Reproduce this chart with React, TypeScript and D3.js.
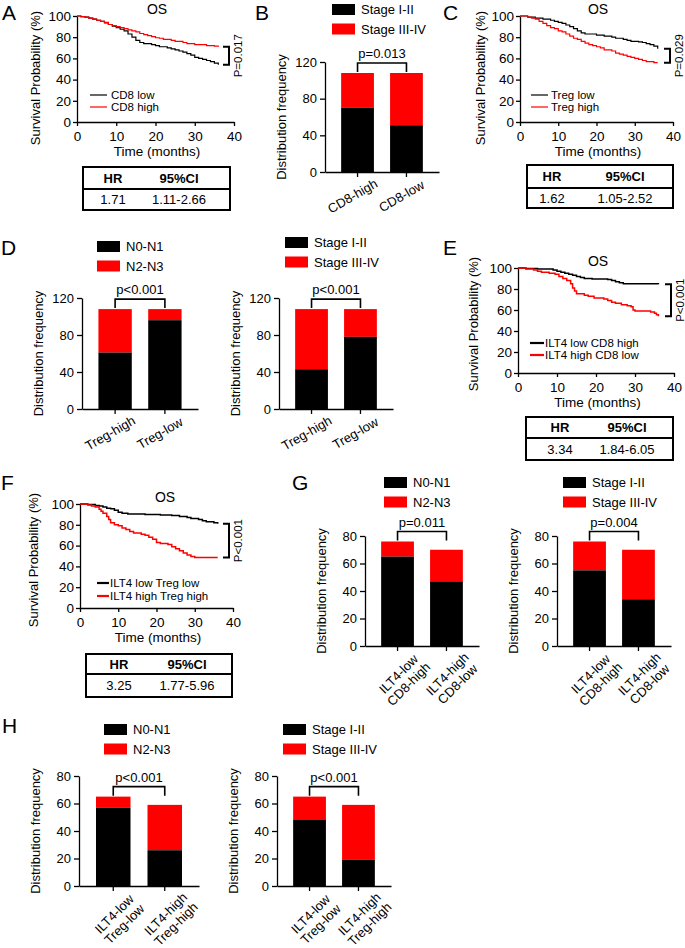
import * as d3 from "d3"
import { useEffect, useRef } from "react"

type Pt = [number, number]
type Sel = d3.Selection<SVGGElement, unknown, null, undefined>

const FONT = "'Liberation Sans', Arial, Helvetica, sans-serif"
const RED = "#ff0000"

// Overall survival steps: [month, % surviving]
const cd8LowOS: Pt[] = [
  [0, 100], [1, 99.5], [2, 99], [3, 98], [4, 97], [5, 96], [6, 95], [7, 93.5], [8, 92], [9, 90.5],
  [10, 89], [11, 87.5], [12, 86], [13, 83], [14, 80], [15, 77], [16, 75], [17, 74], [19, 73], [20, 72],
  [21, 71], [23, 70], [24, 69], [25, 68], [26, 67], [27, 66], [28, 64.5], [29, 63], [30, 61], [31, 60],
  [32, 59], [33, 58], [34, 57], [35, 55.5], [36, 54],
]
const cd8HighOS: Pt[] = [
  [0, 100], [1, 99.5], [2, 99], [3, 98], [4, 97], [5, 96], [6, 95], [7, 94], [8, 92], [9, 91],
  [10, 90], [11, 89], [12, 88], [13, 87], [14, 86], [15, 85], [16, 83.5], [17, 82.5], [18, 81.5],
  [19, 80.5], [20, 79.5], [21, 79], [22, 78], [24, 77], [25, 76], [27, 75], [28, 74], [30, 73],
  [33, 72], [35, 71.5], [36, 71],
]
const tregLowOS: Pt[] = [
  [0, 100], [2, 99], [4, 98], [6, 97], [8, 96], [9, 95], [10, 94], [11, 93], [12, 91.5], [13, 90],
  [14, 88], [15, 86], [16, 84], [17, 83], [20, 82], [22, 81], [24, 80], [25, 79], [27, 78], [28, 77],
  [29, 76], [31, 75.5], [32, 75], [33, 74], [34, 73], [35, 71.5], [36, 69],
]
const tregHighOS: Pt[] = [
  [0, 100], [2, 99], [3, 98], [4, 97], [5, 95], [6, 93], [7, 91], [8, 89], [9, 88], [10, 86],
  [11, 85], [12, 83], [13, 81], [14, 79], [15, 78], [16, 76], [17, 74.5], [18, 73], [19, 72], [20, 71],
  [21, 70], [22, 68], [24, 67], [25, 65], [26, 64], [27, 63], [28, 62], [29, 61], [30, 60], [31, 59],
  [32, 58], [33, 57], [35, 56], [36, 56],
]
const ilt4LowCd8HighOS: Pt[] = [
  [0, 100], [2, 99.5], [5, 99], [9, 98], [10, 97], [11, 96], [12, 95], [13, 94], [14, 93], [15, 92],
  [16, 91], [17, 90], [19, 89.5], [23, 89], [24, 88], [25, 87], [26, 86], [27, 85], [36, 84.5],
]
const ilt4HighCd8LowOS: Pt[] = [
  [0, 100], [2, 99], [4, 98], [5, 97], [6, 96], [8, 95], [9.5, 94], [10.5, 92], [11.5, 90], [12.5, 88],
  [13.5, 85], [14, 81], [14.5, 78], [15, 75.5], [17, 74], [18, 73], [19.5, 71.5], [22, 70.5], [23, 69],
  [24, 67.5], [25, 66.5], [26.5, 65], [28, 64], [29, 63], [29.5, 60], [30, 59], [34, 58], [35, 57],
  [35.5, 55.5], [36, 54],
]
const ilt4LowTregLowOS: Pt[] = [
  [0, 100], [2, 99.5], [4, 98.5], [5, 98], [6, 97], [7, 96], [8, 95.5], [9, 94], [10, 92], [11, 91],
  [12.5, 90.5], [17, 90], [21, 89.5], [24, 89], [26, 88], [28, 87], [29, 86], [31, 85], [32, 84],
  [33, 83], [35, 82], [36, 81],
]
const ilt4HighTregHighOS: Pt[] = [
  [0, 100], [2, 99], [3, 98], [4, 97], [5, 95], [5.5, 93], [6, 91], [7, 88], [7.5, 85], [8, 82],
  [9, 80], [10, 79], [11, 77], [12, 75.5], [13, 73.5], [14, 72], [16, 71], [17, 70], [18, 68], [19, 66],
  [20, 63], [21, 62], [23, 61], [24, 59], [25, 57], [26, 55], [27, 53], [28, 51], [29, 49.5], [30, 48.5],
  [36, 48.5],
]

const kmTimeTicks = [0, 10, 20, 30, 40]
const kmSurvTicks = [0, 20, 40, 60, 80, 100]

// Distribution bars (patient counts)
const nodeLabels = ["N0-N1", "N2-N3"]
const stageLabels = ["Stage I-II", "Stage III-IV"]
const freqTicks120 = [0, 40, 80, 120]
const freqTicks80 = [0, 20, 40, 60, 80]

const cd8Groups = ["CD8-high", "CD8-low"]
const cd8StageEarly = [70, 51]
const cd8StageLate = [38, 57]

const tregGroups = ["Treg-high", "Treg-low"]
const tregN01 = [61, 96]
const tregN23 = [47, 12]
const tregStageEarly = [43, 78]
const tregStageLate = [65, 30]

const ilt4Cd8Groups = ["ILT4-low|CD8-high", "ILT4-high|CD8-low"]
const ilt4Cd8N01 = [65, 47]
const ilt4Cd8N23 = [11, 23]
const ilt4Cd8StageEarly = [55, 34]
const ilt4Cd8StageLate = [21, 36]

const ilt4TregGroups = ["ILT4-low|Treg-low", "ILT4-high|Treg-high"]
const ilt4TregN01 = [57, 26]
const ilt4TregN23 = [8, 33]
const ilt4TregStageEarly = [48, 19]
const ilt4TregStageLate = [17, 40]

// Hazard ratio tables
const hrHeader = ["HR", "95%CI"]
const hrCd8 = ["1.71", "1.11-2.66"]
const hrTreg = ["1.62", "1.05-2.52"]
const hrIlt4Cd8 = ["3.34", "1.84-6.05"]
const hrIlt4Treg = ["3.25", "1.77-5.96"]

const styleAxis = (axis: Sel, size: number, width = 1.3) => {
  axis.attr("font-family", FONT).attr("font-size", size)
  axis.selectAll("text").attr("fill", "#000")
  axis.selectAll("path, line").attr("stroke", "#000").attr("stroke-width", width)
}

interface KMOpts {
  x0: number; x1: number; y0: number; y1: number
  series: { data: Pt[]; color: string; label: string }[]
  lw: number
  legLine: [number, number]; legText: number; legY: number[]; legLw: number
  titleX: number
  yLab: [number, number]
  p: string; bracketX: number
}

const drawKM = (root: Sel, o: KMOpts) => {
  const x = d3.scaleLinear().domain([0, 40]).range([o.x0, o.x1])
  const y = d3.scaleLinear().domain([0, 100]).range([o.y0, o.y1])
  const g = root.append("g")

  const xAxis = g.append("g").attr("transform", `translate(0,${o.y0})`)
    .call(d3.axisBottom(x).tickValues(kmTimeTicks).tickSize(4).tickPadding(5).tickSizeOuter(0))
  styleAxis(xAxis, 13.5)
  const yAxis = g.append("g").attr("transform", `translate(${o.x0},0)`)
    .call(d3.axisLeft(y).tickValues(kmSurvTicks).tickSize(4).tickPadding(2).tickSizeOuter(0))
  styleAxis(yAxis, 13.5)

  const line = d3.line<Pt>().x(d => x(d[0])).y(d => y(d[1])).curve(d3.curveStepAfter)
  o.series.forEach((s, i) => {
    g.append("path").attr("d", line(s.data)).attr("fill", "none")
      .attr("stroke", s.color).attr("stroke-width", o.lw)
    g.append("line").attr("x1", o.legLine[0]).attr("x2", o.legLine[1])
      .attr("y1", o.legY[i]).attr("y2", o.legY[i])
      .attr("stroke", s.color).attr("stroke-width", o.legLw)
    g.append("text").attr("x", o.legText).attr("y", o.legY[i]).attr("dy", "0.35em")
      .attr("font-family", FONT).attr("font-size", 11.5).text(s.label)
  })

  // title and axis labels
  g.append("text").attr("x", o.titleX).attr("y", o.y1 - 2).attr("text-anchor", "middle")
    .attr("font-family", FONT).attr("font-size", 14).text("OS")
  g.append("text").attr("x", (o.x0 + o.x1) / 2 + 1.5).attr("y", o.y0 + 29).attr("dy", "0.35em")
    .attr("text-anchor", "middle").attr("font-family", FONT).attr("font-size", 13.5)
    .text("Time (months)")
  g.append("text").attr("transform", `translate(${o.yLab[0]},${o.yLab[1]}) rotate(-90)`)
    .attr("dy", "0.35em").attr("text-anchor", "middle").attr("font-family", FONT)
    .attr("font-size", 13).text("Survival Probability (%)")

  // log-rank bracket between curve ends
  const ends = o.series.map(s => y(s.data[s.data.length - 1][1]))
  const yA = d3.min(ends) as number
  const yB = d3.max(ends) as number
  g.append("path")
    .attr("d", `M${o.bracketX - 6},${yA}H${o.bracketX}V${yB}H${o.bracketX - 6}`)
    .attr("fill", "none").attr("stroke", "#000").attr("stroke-width", 2)
  g.append("text").attr("transform", `translate(${o.bracketX + 9},${(yA + yB) / 2}) rotate(-90)`)
    .attr("dy", "0.35em").attr("text-anchor", "middle").attr("font-family", FONT)
    .attr("font-size", 11.5).text(o.p)
}

interface TableOpts {
  x0: number; x1: number; top: number; mid: number; bottom: number
  cols: [number, number]; values: string[]
}

const drawTable = (root: Sel, t: TableOpts) => {
  const g = root.append("g").attr("font-family", FONT).attr("font-size", 13)
  g.append("rect").attr("x", t.x0).attr("y", t.top).attr("width", t.x1 - t.x0)
    .attr("height", t.bottom - t.top).attr("fill", "none").attr("stroke", "#000").attr("stroke-width", 2)
  g.append("line").attr("x1", t.x0).attr("x2", t.x1).attr("y1", t.mid).attr("y2", t.mid)
    .attr("stroke", "#000").attr("stroke-width", 1.8)
  hrHeader.forEach((h, i) => {
    g.append("text").attr("x", t.cols[i]).attr("y", (t.top + t.mid) / 2).attr("dy", "0.35em")
      .attr("text-anchor", "middle").attr("font-weight", "bold").text(h)
  })
  t.values.forEach((v, i) => {
    g.append("text").attr("x", t.cols[i]).attr("y", (t.mid + t.bottom) / 2).attr("dy", "0.35em")
      .attr("text-anchor", "middle").text(v)
  })
}

interface BarOpts {
  x0: number; width: number; y0: number; y1: number; max: number; ticks: number[]
  groups: string[]; lower: number[]; upper: number[]; legend: string[]
  legX: number; legY: number; p: string; twoLine: boolean
}

const drawBars = (root: Sel, o: BarOpts) => {
  const g = root.append("g")
  const x = d3.scaleBand().domain(o.groups).range([o.x0, o.x0 + o.width])
    .paddingInner(0.33).paddingOuter(0.33)
  const y = d3.scaleLinear().domain([0, o.max]).range([o.y0, o.y1])

  o.groups.forEach((grp, i) => {
    const bx = x(grp) as number
    g.append("rect").attr("x", bx).attr("width", x.bandwidth())
      .attr("y", y(o.lower[i] + o.upper[i])).attr("height", y(o.lower[i]) - y(o.lower[i] + o.upper[i]))
      .attr("fill", RED)
    g.append("rect").attr("x", bx).attr("width", x.bandwidth())
      .attr("y", y(o.lower[i])).attr("height", y(0) - y(o.lower[i])).attr("fill", "#000")
  })

  const yAxis = g.append("g").attr("transform", `translate(${o.x0},0)`)
    .call(d3.axisLeft(y).tickValues(o.ticks).tickSize(5).tickPadding(3).tickSizeOuter(0))
  styleAxis(yAxis, 13)
  const xAxis = g.append("g").attr("transform", `translate(0,${o.y0})`)
    .call(d3.axisBottom(x).tickSize(5).tickSizeOuter(0).tickFormat(() => ""))
  styleAxis(xAxis, 13)

  // rotated group labels
  o.groups.forEach(grp => {
    const c = (x(grp) as number) + x.bandwidth() / 2
    const lines = grp.split("|")
    const t = g.append("text").attr("font-family", FONT).attr("font-size", 13).attr("text-anchor", "middle")
    if (o.twoLine) {
      t.attr("transform", `translate(${c + 6},${o.y0 + 33}) rotate(-45)`)
      t.append("tspan").attr("x", 0).attr("dy", "-0.2em").text(lines[0])
      t.append("tspan").attr("x", 0).attr("dy", "1.1em").text(lines[1])
    } else {
      t.attr("transform", `translate(${c - 5},${o.y0 + 24}) rotate(-30)`).attr("dy", "0.35em").text(lines[0])
    }
  })

  g.append("text").attr("transform", `translate(${o.x0 - 44},${(o.y0 + o.y1) / 2}) rotate(-90)`)
    .attr("dy", "0.35em").attr("text-anchor", "middle").attr("font-family", FONT)
    .attr("font-size", 13).text("Distribution frequency")

  // legend
  o.legend.forEach((lab, i) => {
    const ly = o.legY + i * 19.5
    g.append("rect").attr("x", o.legX).attr("y", ly).attr("width", 23).attr("height", 11)
      .attr("fill", i === 0 ? "#000" : RED)
    g.append("text").attr("x", o.legX + 29).attr("y", ly + 5.5).attr("dy", "0.35em")
      .attr("font-family", FONT).attr("font-size", 13).text(lab)
  })

  // significance bracket
  const c1 = (x(o.groups[0]) as number) + x.bandwidth() / 2
  const c2 = (x(o.groups[1]) as number) + x.bandwidth() / 2
  const top = y(d3.max(o.groups.map((_g, i) => o.lower[i] + o.upper[i])) as number)
  const by = top - 10
  g.append("path").attr("d", `M${c1},${top - 1}V${by}H${c2}V${top - 1}`)
    .attr("fill", "none").attr("stroke", "#000").attr("stroke-width", 1.6)
  g.append("text").attr("x", (c1 + c2) / 2).attr("y", by - 5).attr("text-anchor", "middle")
    .attr("font-family", FONT).attr("font-size", 13).text(o.p)
}

const panelLetters: [string, number, number][] = [
  ["A", 2, 20], ["B", 255, 20], ["C", 443, 20], ["D", 1, 255],
  ["E", 443, 255], ["F", 1, 490], ["G", 292, 490], ["H", 2, 733],
]

const App = () => {
  const svgRef = useRef<SVGSVGElement | null>(null)

  useEffect(() => {
    if (!svgRef.current) return
    const svg = d3.select(svgRef.current)
    svg.selectAll("*").remove()
    const root = svg.append("g") as unknown as Sel
    root.append("rect").attr("width", 685).attr("height", 948).attr("fill", "#fff")

    // A
    drawKM(root, {
      x0: 77, x1: 234, y0: 122, y1: 16,
      series: [{ data: cd8LowOS, color: "#000", label: "CD8 low" }, { data: cd8HighOS, color: RED, label: "CD8 high" }],
      lw: 1.2, legLine: [90, 107], legText: 111, legY: [95, 107], legLw: 1.2,
      titleX: 157, yLab: [35, 78], p: "P=0.017", bracketX: 229,
    })
    drawTable(root, { x0: 83, x1: 230, top: 167, mid: 189, bottom: 210, cols: [113, 179], values: hrCd8 })

    // B
    drawBars(root, {
      x0: 325, width: 114, y0: 172, y1: 62, max: 120, ticks: freqTicks120,
      groups: cd8Groups, lower: cd8StageEarly, upper: cd8StageLate, legend: stageLabels,
      legX: 332, legY: 4, p: "p=0.013", twoLine: false,
    })

    // C
    drawKM(root, {
      x0: 520, x1: 673, y0: 122, y1: 16,
      series: [{ data: tregLowOS, color: "#000", label: "Treg low" }, { data: tregHighOS, color: RED, label: "Treg high" }],
      lw: 1.2, legLine: [531, 548], legText: 551, legY: [95, 107], legLw: 1.2,
      titleX: 598, yLab: [480, 78], p: "P=0.029", bracketX: 670,
    })
    drawTable(root, { x0: 527, x1: 673, top: 165, mid: 188, bottom: 208, cols: [552, 625], values: hrTreg })

    // D
    drawBars(root, {
      x0: 82, width: 116, y0: 409, y1: 298, max: 120, ticks: freqTicks120,
      groups: tregGroups, lower: tregN01, upper: tregN23, legend: nodeLabels,
      legX: 97, legY: 241, p: "p<0.001", twoLine: false,
    })
    drawBars(root, {
      x0: 279, width: 114, y0: 409, y1: 298, max: 120, ticks: freqTicks120,
      groups: tregGroups, lower: tregStageEarly, upper: tregStageLate, legend: stageLabels,
      legX: 285, legY: 237, p: "p<0.001", twoLine: false,
    })

    // E
    drawKM(root, {
      x0: 518, x1: 674, y0: 373, y1: 268,
      series: [
        { data: ilt4LowCd8HighOS, color: "#000", label: "ILT4 low CD8 high" },
        { data: ilt4HighCd8LowOS, color: RED, label: "ILT4 high CD8 low" },
      ],
      lw: 1.5, legLine: [530, 544], legText: 545, legY: [343, 355], legLw: 2.2,
      titleX: 598, yLab: [473, 324], p: "P<0.001", bracketX: 671,
    })
    drawTable(root, { x0: 526, x1: 673, top: 417, mid: 438, bottom: 460, cols: [560, 627], values: hrIlt4Cd8 })

    // F
    drawKM(root, {
      x0: 80, x1: 233, y0: 608, y1: 504,
      series: [
        { data: ilt4LowTregLowOS, color: "#000", label: "ILT4 low Treg low" },
        { data: ilt4HighTregHighOS, color: RED, label: "ILT4 high Treg high" },
      ],
      lw: 1.5, legLine: [97, 109], legText: 110, legY: [583, 596], legLw: 2.2,
      titleX: 165, yLab: [33, 560], p: "P<0.001", bracketX: 229,
    })
    drawTable(root, { x0: 86, x1: 232, top: 654, mid: 674, bottom: 697, cols: [119, 187], values: hrIlt4Treg })

    // G
    drawBars(root, {
      x0: 365, width: 114, y0: 646, y1: 536, max: 80, ticks: freqTicks80,
      groups: ilt4Cd8Groups, lower: ilt4Cd8N01, upper: ilt4Cd8N23, legend: nodeLabels,
      legX: 384, legY: 477, p: "p=0.011", twoLine: true,
    })
    drawBars(root, {
      x0: 557, width: 114, y0: 646, y1: 536, max: 80, ticks: freqTicks80,
      groups: ilt4Cd8Groups, lower: ilt4Cd8StageEarly, upper: ilt4Cd8StageLate, legend: stageLabels,
      legX: 563, legY: 477, p: "p=0.004", twoLine: true,
    })

    // H
    drawBars(root, {
      x0: 79, width: 120, y0: 886, y1: 776, max: 80, ticks: freqTicks80,
      groups: ilt4TregGroups, lower: ilt4TregN01, upper: ilt4TregN23, legend: nodeLabels,
      legX: 104, legY: 724, p: "p<0.001", twoLine: true,
    })
    drawBars(root, {
      x0: 277, width: 114, y0: 886, y1: 776, max: 80, ticks: freqTicks80,
      groups: ilt4TregGroups, lower: ilt4TregStageEarly, upper: ilt4TregStageLate, legend: stageLabels,
      legX: 283, legY: 724, p: "p<0.001", twoLine: true,
    })

    // panel letters
    panelLetters.forEach(([l, lx, ly]) => {
      root.append("text").attr("x", lx).attr("y", ly).attr("font-family", FONT)
        .attr("font-size", 21).text(l)
    })
  }, [])

  return (
    <svg
      ref={svgRef}
      width={685}
      height={948}
      style={{ position: "absolute", left: 0, top: 0 }}
    />
  )
}

export default App
